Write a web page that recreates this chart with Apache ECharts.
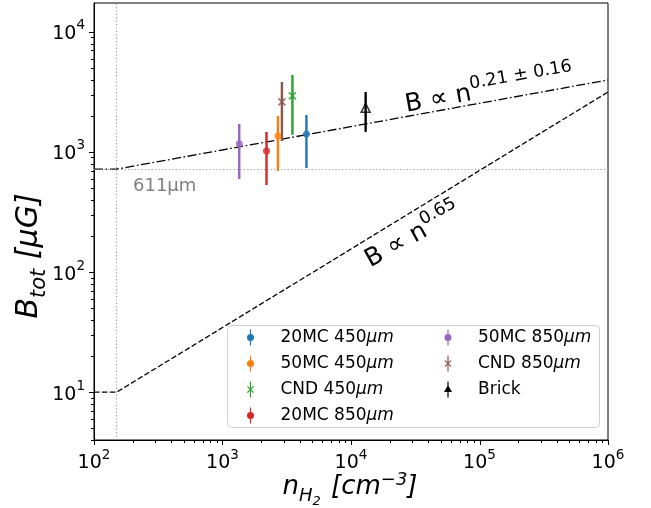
<!DOCTYPE html>
<html><head><meta charset="utf-8">
<script src="https://cdn.jsdelivr.net/npm/echarts/dist/echarts.min.js"></script>
<style>html,body{margin:0;padding:0;background:#fff}#c{width:651px;height:508px}</style>
</head><body><div id="c"></div>
<script>
// ---- data ----
const seriesNames = ['20MC 450μm','50MC 450μm','CND 450μm','20MC 850μm','50MC 850μm','CND 850μm','Brick'];
const seriesColors = ['#1f77b4','#ff7f0e','#2ca02c','#d62728','#9467bd','#8c564b','#000000'];
const seriesMarkers = ['circle','circle','x','circle','circle','x','triangle'];
const densities   = [4500, 2700, 3500, 2200, 1350, 2900, 13000];
const fieldValues = [1410, 1360, 2930, 1020, 1170, 2610, 2330];
const fieldLower  = [736, 695, 1390, 531, 596, 1235, 1470];
const fieldUpper  = [2030, 2000, 4380, 1470, 1710, 3830, 3160];
const shallowLineN = [100, 150, 1e6];
const shallowLineB = [720, 720, 3980];
const steepLineN = [100, 150, 1e6];
const steepLineB = [10, 10, 3160];
const thresholdN = 150;
const thresholdB = 720;
const thresholdLabel = '611μm';
const xRange = [100, 1e6];
const yRange = [4, 17400];
const xMajorTicks = [1e2, 1e3, 1e4, 1e5, 1e6];
const yMajorTicks = [1e1, 1e2, 1e3, 1e4];
const minorMultipliers = [2,3,4,5,6,7,8,9];

// ---- helpers ----
const FONT = 'DejaVu Sans';
function tickList(range, majors){
  const out = [];
  for (let e = Math.floor(Math.log10(range[0])); e <= Math.ceil(Math.log10(range[1])); e++){
    const base = Math.pow(10, e);
    if (base >= range[0]*0.999 && base <= range[1]*1.001 && majors.some(m => Math.abs(m-base)/base < 1e-6)) out.push([base, 1]);
    minorMultipliers.forEach(m => { const v = m*base; if (v >= range[0]*0.999 && v <= range[1]*1.001) out.push([v, 0]); });
  }
  return out;
}
const xTickData = tickList(xRange, xMajorTicks).map(t => [t[0], yRange[0], t[1]]);
const yTickData = tickList(yRange, yMajorTicks).map(t => [xRange[0], t[0], t[1]]);

function expLabel(v){
  const e = Math.log10(v);
  if (Math.abs(e - Math.round(e)) > 1e-6) return '';
  return '{b|10}{s|' + Math.round(e) + '}';
}
const labelRich = {
  b: {fontFamily: FONT, fontSize: 19, color: '#000', verticalAlign: 'bottom', lineHeight: 24},
  s: {fontFamily: FONT, fontSize: 13.5, color: '#000', verticalAlign: 'bottom', lineHeight: 13.5, padding: [0,0,11,0]}
};

const markerPaths = {
  circle: 'circle',
  x: 'path://M0,0 L10,10 M10,0 L0,10',
  triangle: 'triangle'
};
const legendIcons = {
  circle: 'path://M4.4,0 H5.6 V16 H4.4 Z M8.5,8 A3.5,3.5 0 1 1 1.5,8 A3.5,3.5 0 1 1 8.5,8 Z',
  x: 'path://M4.4,0 H5.6 V16 H4.4 Z M1.5,5.3 L2.3,4.5 L8.5,10.7 L7.7,11.5 Z M7.7,4.5 L8.5,5.3 L2.3,11.5 L1.5,10.7 Z',
  triangle: 'path://M4.4,0 H5.6 V16 H4.4 Z M5,3.5 L9,10.5 L1,10.5 Z'
};

const series = [];
// reference lines
series.push({
  type: 'line', name: 'shallow', data: shallowLineN.map((n,i) => [n, shallowLineB[i]]),
  showSymbol: false, symbol: 'none', z: 2, silent: true,
  lineStyle: {color: '#000', width: 1.3, type: [9, 2.6, 1.6, 2.6]},
  markLine: {
    silent: true, symbol: 'none', label: {show: false},
    lineStyle: {color: '#9a9a9a', width: 1.2, type: [1.2, 2.2]},
    data: [{xAxis: thresholdN}, {yAxis: thresholdB}]
  }
});
series.push({
  type: 'line', name: 'steep', data: steepLineN.map((n,i) => [n, steepLineB[i]]),
  showSymbol: false, symbol: 'none', z: 2, silent: true,
  lineStyle: {color: '#000', width: 1.3, type: [5.5, 2.4]}
});
// ticks
series.push({
  type: 'custom', name: 'xticks', silent: true, clip: false, z: 1,
  data: xTickData,
  renderItem: function(params, api){
    const p = api.coord([api.value(0), api.value(1)]);
    const len = api.value(2) ? 5 : 3;
    const x = Math.round(p[0]) + 0.5;
    return {type: 'line', shape: {x1: x, y1: p[1], x2: x, y2: p[1] + len}, style: {stroke: '#000', lineWidth: 1}};
  }
});
series.push({
  type: 'custom', name: 'yticks', silent: true, clip: false, z: 1,
  data: yTickData,
  renderItem: function(params, api){
    const p = api.coord([api.value(0), api.value(1)]);
    const len = api.value(2) ? 5 : 3;
    const y = Math.round(p[1]) + 0.5;
    return {type: 'line', shape: {x1: p[0] - len, y1: y, x2: p[0], y2: y}, style: {stroke: '#000', lineWidth: 1}};
  }
});
// error bars + markers
seriesNames.forEach((name, i) => {
  series.push({
    type: 'custom', name: name, z: 3, silent: true,
    data: [[densities[i], fieldLower[i], fieldUpper[i]]],
    encode: {x: 0, y: [1, 2]},
    renderItem: function(params, api){
      const a = api.coord([api.value(0), api.value(1)]);
      const b = api.coord([api.value(0), api.value(2)]);
      return {type: 'line', shape: {x1: a[0], y1: a[1], x2: b[0], y2: b[1]},
              style: {stroke: seriesColors[i], lineWidth: 2.4}};
    }
  });
  const mk = seriesMarkers[i];
  const itemStyle = mk === 'x'
    ? {color: 'transparent', borderColor: seriesColors[i], borderWidth: 1.8}
    : mk === 'triangle'
      ? {color: 'rgba(255,255,255,0)', borderColor: seriesColors[i], borderWidth: 1.5}
      : {color: seriesColors[i]};
  series.push({
    type: 'scatter', name: name, z: 4, silent: true,
    data: [[densities[i], fieldValues[i]]],
    symbol: markerPaths[mk], symbolSize: mk === 'circle' ? 7 : (mk === 'x' ? 7 : 9),
    itemStyle: itemStyle
  });
});

function legendData(names){
  return names.map(n => {
    const i = seriesNames.indexOf(n);
    return {name: n, icon: legendIcons[seriesMarkers[i]], itemStyle: {color: seriesColors[i], borderWidth: 0}};
  });
}
const legendRich = {
  t: {fontFamily: FONT, fontSize: 17, color: '#000', lineHeight: 20, padding: [0,0,0,20]},
  i: {fontFamily: FONT, fontSize: 17, color: '#000', lineHeight: 20, fontStyle: 'italic'}
};
function legendFormatter(name){
  const idx = name.indexOf('μm');
  if (idx < 0) return '{t|' + name + '}';
  return '{t|' + name.slice(0, idx) + '}{i|μm}';
}
const legendCommon = {
  orient: 'vertical', itemWidth: 10, itemHeight: 16, itemGap: 9, padding: 0,
  selectedMode: false, z: 6, symbolKeepAspect: true,
  textStyle: {rich: legendRich}, formatter: legendFormatter
};

const xTitleRich = {
  i: {fontFamily: FONT, fontSize: 26, fontStyle: 'italic', fill: '#000', color: '#000', verticalAlign: 'top', lineHeight: 30},
  sub: {fontFamily: FONT, fontSize: 18, fontStyle: 'italic', fill: '#000', color: '#000', verticalAlign: 'top', lineHeight: 18, padding: [13,0,0,0]},
  ss: {fontFamily: FONT, fontSize: 13, fontStyle: 'italic', fill: '#000', color: '#000', verticalAlign: 'top', lineHeight: 13, padding: [21,2,0,0]},
  sup: {fontFamily: FONT, fontSize: 18, fontStyle: 'italic', fill: '#000', color: '#000', verticalAlign: 'top', lineHeight: 18, padding: [-3,0,0,0]}
};
const yTitleRich = {
  i: {fontFamily: FONT, fontSize: 30, fontStyle: 'italic', fill: '#000', color: '#000', verticalAlign: 'top', lineHeight: 35},
  sub: {fontFamily: FONT, fontSize: 21, fontStyle: 'italic', fill: '#000', color: '#000', verticalAlign: 'top', lineHeight: 21, padding: [15,0,0,0]}
};
const annRich = {
  m: {fontFamily: FONT, fontSize: 25, fill: '#000', color: '#000', verticalAlign: 'bottom', lineHeight: 30},
  s: {fontFamily: FONT, fontSize: 17.5, fill: '#000', color: '#000', verticalAlign: 'bottom', lineHeight: 18, padding: [0,0,13,0]}
};

const option = {
  backgroundColor: '#fff',
  animation: false,
  grid: {left: 94, right: 43, top: 3, bottom: 68, show: true, borderColor: '#000', borderWidth: 1,
         backgroundColor: 'transparent', containLabel: false, outerBoundsMode: 'none'},
  xAxis: {
    type: 'log', logBase: 10, min: xRange[0], max: xRange[1],
    axisLine: {show: true, onZero: false, lineStyle: {color: '#000', width: 1}},
    axisTick: {show: false}, splitLine: {show: false}, minorTick: {show: false},
    axisLabel: {formatter: expLabel, rich: labelRich, margin: 9, showMinLabel: true, showMaxLabel: true}
  },
  yAxis: {
    type: 'log', logBase: 10, min: yRange[0], max: yRange[1],
    axisLine: {show: true, onZero: false, lineStyle: {color: '#000', width: 1}},
    axisTick: {show: false}, splitLine: {show: false}, minorTick: {show: false},
    axisLabel: {formatter: expLabel, rich: labelRich, margin: 9}
  },
  legend: [
    Object.assign({left: 247, top: 329, data: legendData(seriesNames.slice(0, 4))}, legendCommon),
    Object.assign({left: 444, top: 329, data: legendData(seriesNames.slice(4))}, legendCommon)
  ],
  graphic: [
    {type: 'rect', z: 5, shape: {x: 227.5, y: 325.5, width: 372, height: 102, r: 4},
     style: {fill: 'rgba(255,255,255,0.85)', stroke: '#d0d0d0', lineWidth: 1}},
    {type: 'text', z: 6, x: 350, y: 489,
     style: {text: '{i|n}{sub|H}{ss|2}{i| [cm}{sup|−3}{i|]}', align: 'center', verticalAlign: 'middle',
             textAlign: 'center', textVerticalAlign: 'middle', rich: xTitleRich}},
    {type: 'text', z: 6, x: 32, y: 256, rotation: Math.PI / 2,
     style: {text: '{i|B}{sub|tot}{i| [μG]}', align: 'center', verticalAlign: 'middle',
             textAlign: 'center', textVerticalAlign: 'middle', rich: yTitleRich}},
    {type: 'text', z: 6, x: 489, y: 88, rotation: 10 * Math.PI / 180,
     style: {text: '{m|B ∝ n}{s|0.21 ± 0.16}', align: 'center', verticalAlign: 'middle',
             textAlign: 'center', textVerticalAlign: 'middle', rich: annRich}},
    {type: 'text', z: 6, x: 412, y: 234, rotation: 29 * Math.PI / 180,
     style: {text: '{m|B ∝ n}{s|0.65}', align: 'center', verticalAlign: 'middle',
             textAlign: 'center', textVerticalAlign: 'middle', rich: annRich}},
    {type: 'text', z: 6, x: 133, y: 186,
     style: {text: thresholdLabel, fontFamily: FONT, fontSize: 18, fill: '#808080',
             align: 'left', verticalAlign: 'middle', textAlign: 'left', textVerticalAlign: 'middle'}}
  ],
  series: series
};

const chart = echarts.init(document.getElementById('c'), null, {renderer: 'canvas'});
chart.setOption(option);
</script>
</body></html>
